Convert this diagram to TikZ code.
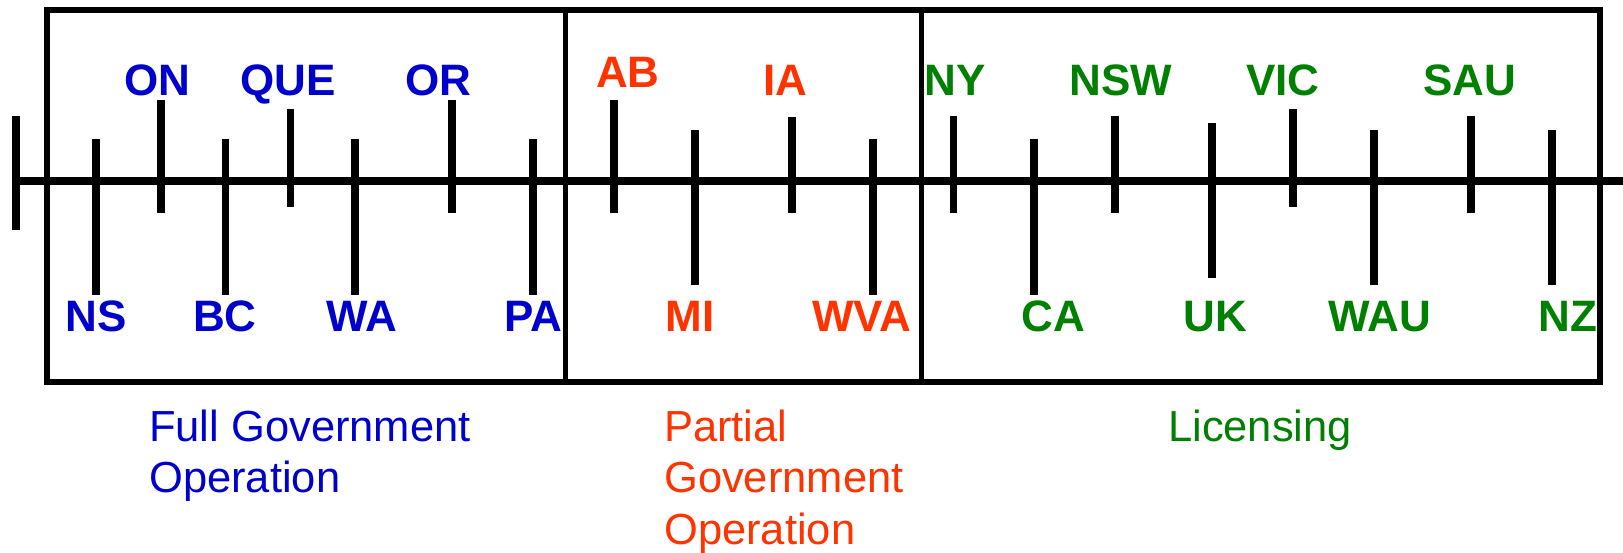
\documentclass[tikz,border=0pt]{standalone}
\usepackage{fontspec}
\setmainfont{Liberation Sans}
\definecolor{fblue}{RGB}{0,0,204}
\definecolor{fred}{RGB}{255,51,0}
\definecolor{fgreen}{RGB}{0,128,0}
\tikzset{
  frame/.style={line width=5.5pt, draw=black},
  axisline/.style={line width=8pt, draw=black},
  tick/.style={line width=7.5pt, draw=black},
  code/.style={inner sep=0pt, anchor=base, font=\fontsize{44}{44}\selectfont\bfseries},
  cat/.style={inner sep=0pt, anchor=base west, font=\fontsize{43.5}{43.5}\selectfont},
}
\begin{document}
\begin{tikzpicture}[x=1pt,y=-1pt]
\useasboundingbox (0,0) rectangle (1623,553);
% frame
\draw[frame] (47,10) rectangle (1600,382);
\draw[frame] (565.5,10) -- (565.5,382);
\draw[frame] (921.5,10) -- (921.5,382);
% axis
\coordinate (axL) at (16,181);
\coordinate (axR) at (1623,181);
\draw[axisline] (axL) -- (axR);
\draw[tick] (16,116) -- (16,230);
% ticks: full government
\draw[tick] (96,139) -- (96,295);
\draw[tick] (161,100) -- (161,213);
\draw[tick] (225.5,139) -- (225.5,295);
\draw[tick] (290.5,109) -- (290.5,207);
\draw[tick] (355,139) -- (355,295);
\draw[tick] (452,100) -- (452,213);
\draw[tick] (533,139) -- (533,295);
% partial
\draw[tick] (614,100) -- (614,213);
\draw[tick] (695,130) -- (695,285);
\draw[tick] (792,117) -- (792,213);
\draw[tick] (873,139) -- (873,295);
% licensing
\draw[tick] (953.5,116) -- (953.5,213);
\draw[tick] (1034,139) -- (1034,295);
\draw[tick] (1115,116) -- (1115,213);
\draw[tick] (1212,123) -- (1212,278);
\draw[tick] (1293,109) -- (1293,207);
\draw[tick] (1374,130) -- (1374,285);
\draw[tick] (1471,116) -- (1471,213);
\draw[tick] (1552,130) -- (1552,285);
% labels blue
\node[code, text=fblue] (ON) at (157.5,96) {ON};
\node[code, text=fblue] (QUE) at (288,96) {QUE};
\node[code, text=fblue] (OR) at (438.5,96) {OR};
\node[code, text=fblue] (NS) at (96,332) {NS};
\node[code, text=fblue] (BC) at (225,332) {BC};
\node[code, text=fblue] (WA) at (362,332) {WA};
\node[code, text=fblue] (PA) at (533,332) {PA};
% labels red
\node[code, text=fred] (AB) at (628,88) {AB};
\node[code, text=fred] (IA) at (785,96) {IA};
\node[code, text=fred] (MI) at (690,332) {MI};
\node[code, text=fred] (WVA) at (862,332) {WVA};
% labels green
\node[code, text=fgreen] (NY) at (955,96) {NY};
\node[code, text=fgreen] (NSW) at (1121,96) {NSW};
\node[code, text=fgreen] (VIC) at (1283,96) {VIC};
\node[code, text=fgreen] (SAU) at (1470,96) {SAU};
\node[code, text=fgreen] (CA) at (1053,332) {CA};
\node[code, text=fgreen] (UK) at (1215,332) {UK};
\node[code, text=fgreen] (WAU) at (1379.5,332) {WAU};
\node[code, text=fgreen] (NZ) at (1568,332) {NZ};
% categories
\node[cat, text=fblue] (fg1) at (149,441) {Full Government};
\node[cat, text=fblue] (fg2) at (149,492.5) {Operation};
\node[cat, text=fred] (pg1) at (664,441) {Partial};
\node[cat, text=fred] (pg2) at (664,492.5) {Government};
\node[cat, text=fred] (pg3) at (664,544) {Operation};
\node[cat, text=fgreen] (lic) at (1168,441) {Licensing};
\end{tikzpicture}
\end{document}
